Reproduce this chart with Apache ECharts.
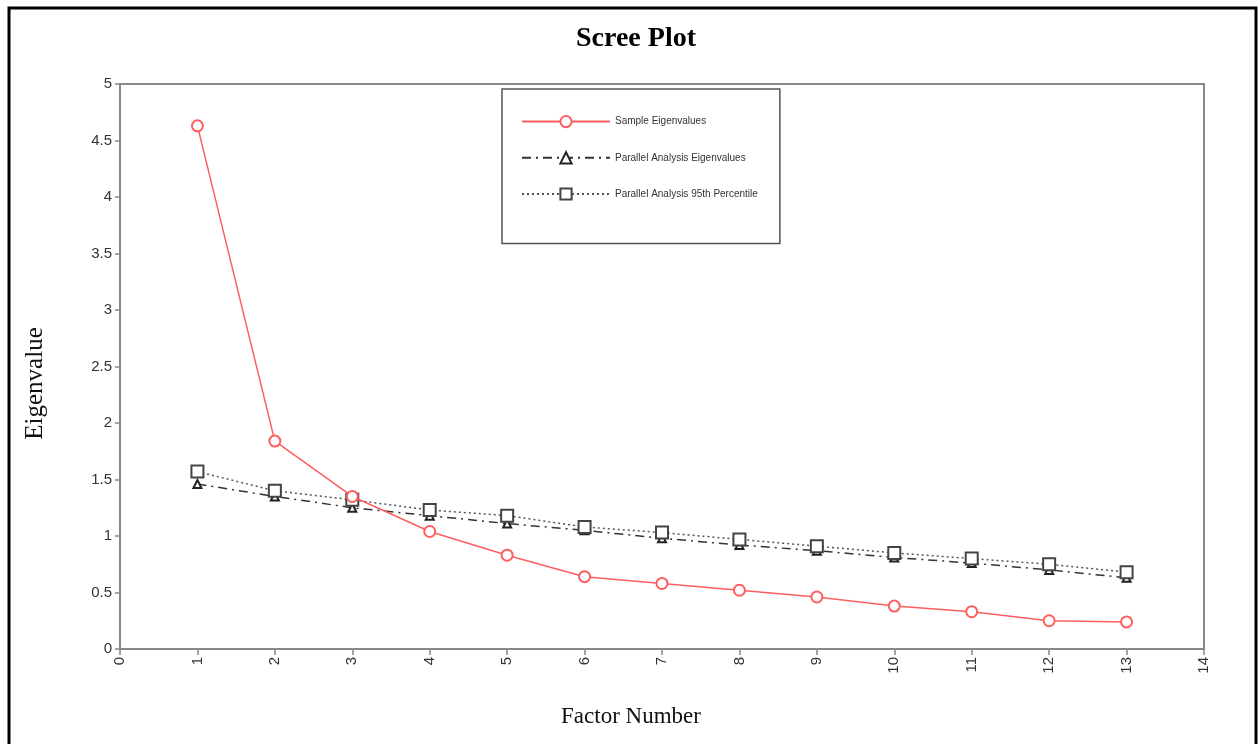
<!DOCTYPE html>
<html>
<head>
<meta charset="utf-8">
<script src="https://cdn.jsdelivr.net/npm/echarts@6/dist/echarts.min.js"></script>
<style>
  html, body { margin: 0; padding: 0; background: #fff; }
  #chart { width: 1259px; height: 744px; }
</style>
</head>
<body>
<div id="chart"></div>
<script>
// factor numbers on the x axis
const factors = [1, 2, 3, 4, 5, 6, 7, 8, 9, 10, 11, 12, 13]
// eigenvalues
const sampleEigen = [4.63, 1.84, 1.35, 1.04, 0.83, 0.64, 0.58, 0.52, 0.46, 0.38, 0.33, 0.25, 0.24]
const parallelEigen = [1.46, 1.35, 1.25, 1.18, 1.11, 1.05, 0.98, 0.92, 0.87, 0.81, 0.76, 0.70, 0.63]
const parallel95 = [1.57, 1.40, 1.32, 1.23, 1.18, 1.08, 1.03, 0.97, 0.91, 0.85, 0.80, 0.75, 0.68]

const pairs = (ys) => factors.map((x, i) => [x, ys[i]])

const tickFont = { color: '#333', fontSize: 15, fontFamily: 'Liberation Sans' }

const myChart = echarts.init(document.getElementById('chart'))
const options = {
  animation: false,
  backgroundColor: '#fff',
  title: {
    text: 'Scree Plot',
    left: 571,
    top: 20,
    textStyle: { fontFamily: 'Liberation Serif', fontWeight: 'bold', fontSize: 28, color: '#000' }
  },
  // black frame round the whole picture
  graphic: [{
    type: 'rect',
    shape: { x: 9, y: 8, width: 1247, height: 760 },
    style: { fill: 'none', stroke: '#000', lineWidth: 3 },
    silent: true
  }],
  legend: {
    orient: 'vertical',
    left: 502,
    top: 89,
    padding: [26, 22, 43, 19],
    itemGap: 23,
    itemWidth: 88,
    itemHeight: 14,
    borderColor: '#555',
    borderWidth: 1.5,
    textStyle: { fontSize: 10, color: '#333', fontFamily: 'Liberation Sans' },
    data: ['Sample Eigenvalues', 'Parallel Analysis Eigenvalues', 'Parallel Analysis 95th Percentile']
  },
  grid: {
    left: 120,
    right: 55,
    top: 84,
    bottom: 95,
    show: true,
    borderColor: '#888',
    borderWidth: 2
  },
  xAxis: {
    type: 'value',
    min: 0,
    max: 14,
    interval: 1,
    name: 'Factor Number',
    nameLocation: 'middle',
    nameGap: 56,
    nameTextStyle: { fontFamily: 'Liberation Serif', fontSize: 23, color: '#111', padding: [0, 62, 0, 0] },
    axisLine: { lineStyle: { color: '#888', width: 2 } },
    axisTick: { length: 6, lineStyle: { color: '#888', width: 1.5 } },
    axisLabel: Object.assign({ rotate: 90, margin: 8 }, tickFont),
    splitLine: { show: false }
  },
  yAxis: {
    type: 'value',
    min: 0,
    max: 5,
    interval: 0.5,
    name: 'Eigenvalue',
    nameLocation: 'middle',
    nameRotate: 90,
    nameGap: 72,
    nameTextStyle: { fontFamily: 'Liberation Serif', fontSize: 25, color: '#111', padding: [0, 34, 0, 0] },
    axisLine: { show: true, lineStyle: { color: '#888', width: 2 } },
    axisTick: { show: true, length: 5, lineStyle: { color: '#888', width: 1.5 } },
    axisLabel: Object.assign({ margin: 8 }, tickFont),
    splitLine: { show: false }
  },
  series: [
    {
      name: 'Sample Eigenvalues',
      type: 'line',
      data: pairs(sampleEigen),
      symbol: 'emptyCircle',
      symbolSize: 11,
      color: '#ff5e5e',
      lineStyle: { color: '#ff5e5e', width: 1.5 },
      itemStyle: { color: '#ff5e5e', borderColor: '#ff5e5e', borderWidth: 1.5 },
      z: 3
    },
    {
      name: 'Parallel Analysis Eigenvalues',
      type: 'line',
      data: pairs(parallelEigen),
      symbol: 'emptyTriangle',
      symbolSize: 8,
      color: '#222',
      lineStyle: { color: '#333', width: 1.5, type: [9, 5, 2, 5] },
      itemStyle: { color: '#222', borderColor: '#222', borderWidth: 1.5 },
      z: 2
    },
    {
      name: 'Parallel Analysis 95th Percentile',
      type: 'line',
      data: pairs(parallel95),
      symbol: 'emptyRect',
      symbolSize: 12,
      color: '#444',
      lineStyle: { color: '#555', width: 1.5, type: [2, 3] },
      itemStyle: { color: '#444', borderColor: '#444', borderWidth: 1.5 },
      z: 2
    }
  ]
}
myChart.setOption(options)
</script>
</body>
</html>
